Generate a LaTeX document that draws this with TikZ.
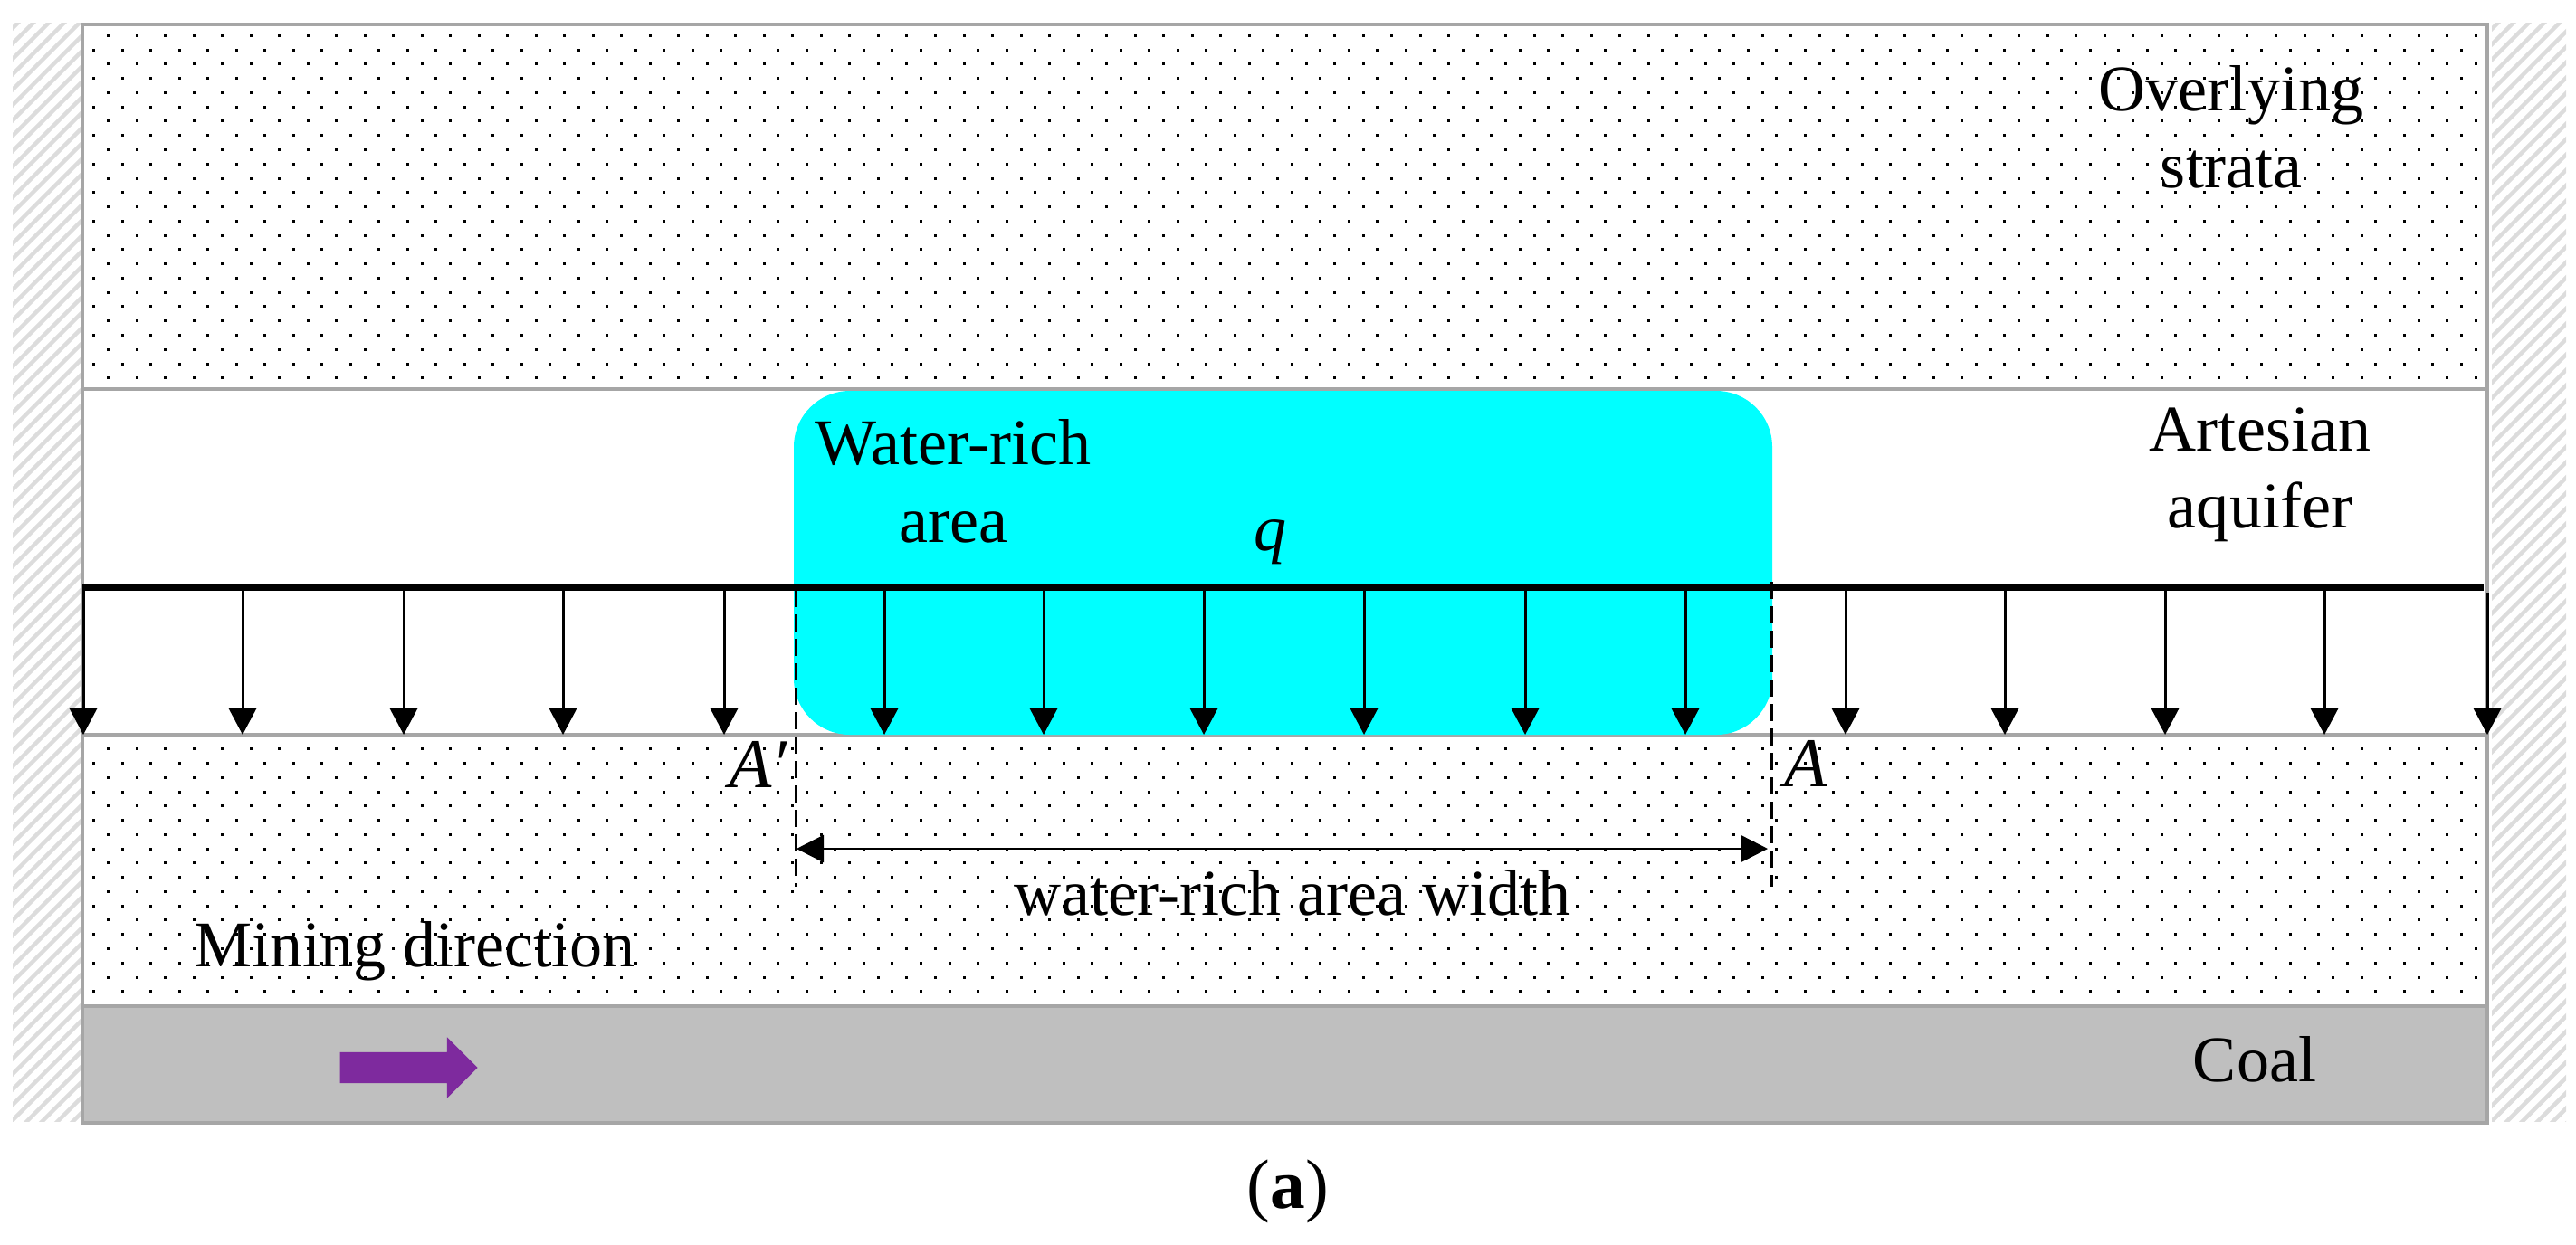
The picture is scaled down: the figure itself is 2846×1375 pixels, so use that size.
\documentclass[tikz,border=0pt]{standalone}
\usepackage{fontspec}
\setmainfont{Liberation Serif}
\usetikzlibrary{arrows.meta,shapes.arrows}

\definecolor{framegray}{HTML}{A6A6A6}
\definecolor{coalgray}{HTML}{BFBFBF}
\definecolor{hatchgray}{HTML}{DCDCDC}
\definecolor{richcyan}{HTML}{00FFFF}
\definecolor{minepurple}{HTML}{7E2A9E}

\newcommand{\dotrows}[2]{%
  \foreach \r in {0,...,#2} {
    \pgfmathsetmacro{\rowx}{isodd(\r) ? 103.7 : 119.7}
    \foreach \c in {0,...,83} {
      \fill ({\rowx+31.51*\c-1.5},{#1+15.77*\r-1.5}) rectangle +(3,3);
    }
  }
}

\tikzset{
  frameline/.style={draw=framegray,line width=0.035cm},
  hatchline/.style={draw=hatchgray,line width=0.045cm},
  loadarrow/.style={draw,line width=0.03cm,-{Triangle[length=0.29cm,width=0.3cm]}},
  dimarrow/.style={draw,line width=0.025cm,{Triangle[length=0.3cm,width=0.3cm]}-{Triangle[length=0.3cm,width=0.3cm]}},
  edgedash/.style={draw,line width=0.03cm,dash pattern=on 0.19cm off 0.08cm},
  label/.style={inner sep=0pt,font=\fontsize{20.5}{24.4}\selectfont,align=center,anchor=base},
  minearrow/.style={single arrow,fill=minepurple,draw=none,outer sep=0pt,
    inner xsep=0pt,inner ysep=0.165cm,text height=0pt,text depth=0pt,
    minimum height=1.52cm,single arrow head extend=0.165cm,single arrow tip angle=90}
}

\begin{document}
\begin{tikzpicture}[x=0.01cm,y=-0.01cm]

      \useasboundingbox (0,0) rectangle (2846,1375);

      \begin{scope}
        \clip (14,25) rectangle (89,1239);
        \foreach \s in {-1300,-1283,...,100} {
          \draw[hatchline] (\s,1260) -- (\s+1300,-40);
        }
      \end{scope}

      \begin{scope}
        \clip (2753,25) rectangle (2835,1239);
        \foreach \s in {1440,1457,...,2840} {
          \draw[hatchline] (\s,1260) -- (\s+1300,-40);
        }
      \end{scope}

      \dotrows{39.3}{24}
      \dotrows{827.7}{17}

      \fill[coalgray] (91,1112) rectangle (2748,1241);
      \draw[frameline] (91,27) rectangle (2748,1241);
      \draw[frameline] (91,430) -- (2748,430);
      \draw[frameline] (91,812) -- (2748,812);
      \draw[frameline] (91,1112) -- (2748,1112);

      \fill[richcyan,rounded corners=0.62cm] (877,432) rectangle (1958,812);

      \coordinate (lineL) at (91,649);
      \coordinate (lineR) at (2744,649);
      \draw[line width=0.07cm] (lineL) -- (lineR);

      \foreach \x in {92,268,446,622,800,977,1153,1330,1507,1685,1862,2039,2215,2392,2568} {
        \coordinate (top\x) at (\x,652);
        \coordinate (bot\x) at (\x,812);
        \draw[loadarrow] (top\x) -- (bot\x);
      }
      \coordinate (top2748) at (2748,655);
      \coordinate (bot2748) at (2748,812);
      \draw[loadarrow] (top2748) -- (bot2748);

      \coordinate (dashAt) at (879,652);
      \coordinate (dashAb) at (879,980);
      \coordinate (dashBt) at (1957,643);
      \coordinate (dashBb) at (1957,980);
      \draw[edgedash] (dashAt) -- (dashAb);
      \draw[edgedash] (dashBt) -- (dashBb);

      \coordinate (dimL) at (880,938);
      \coordinate (dimR) at (1953,938);
      \draw[dimarrow] (dimL) -- (dimR);

      \node[minearrow] (minedir) at (443,1180) {};

      \begin{scope}[every node/.style={label}]
        \node (overlying) at (2465,122) {Overlying};
        \node (strata)    at (2465,207) {strata};
        \node (artesian)  at (2497,498) {Artesian};
        \node (aquifer)   at (2497,583) {aquifer};
        \node (waterrich) at (1053,513) {Water-rich};
        \node (area)      at (1053,599) {area};
        \node (qload)     at (1403,608) {\textit{q}};
        \node (Aprime)    at (838,870)  {\fontsize{22}{24}\selectfont\textit{A′}};
        \node (Aright)    at (1995,869) {\fontsize{22}{24}\selectfont\textit{A}};
        \node (widthtxt)  at (1428,1011) {water-rich area width};
        \node (miningtxt) at (458,1068) {Mining direction};
        \node (coaltxt)   at (2491,1195) {Coal};
        \node (caption)   at (1423,1335) {\fontsize{22}{24}\selectfont(\textbf{a})};
      \end{scope}

    \end{tikzpicture}
\end{document}
